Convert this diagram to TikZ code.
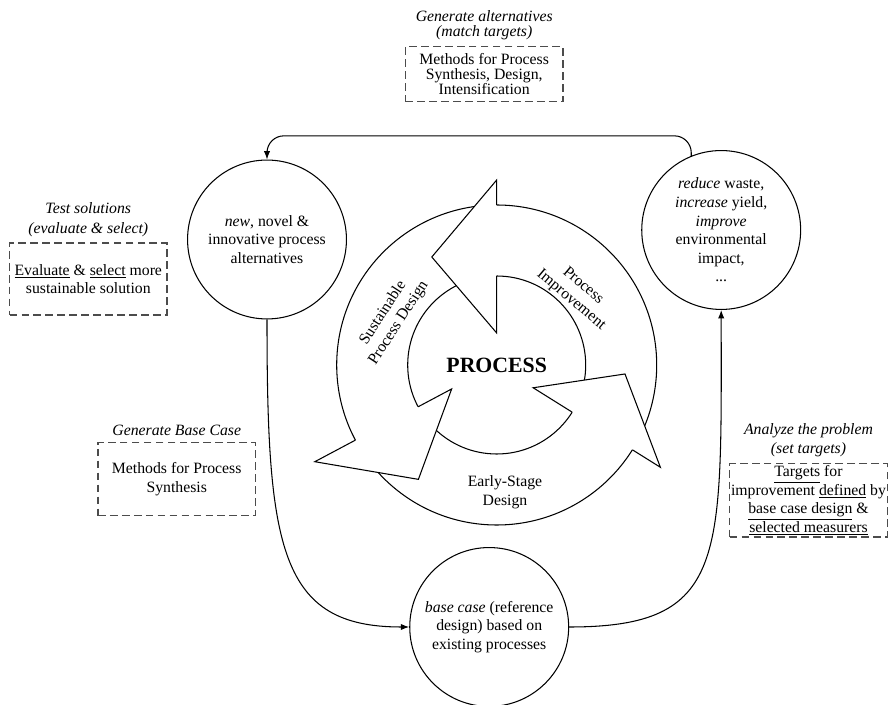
\documentclass[tikz,border=0pt]{standalone}
\usepackage{fontspec}
\setmainfont{Liberation Serif}
\usetikzlibrary{arrows.meta,positioning}

\begin{document}
\begin{tikzpicture}[
    x=0.025cm, y=0.025cm,
    node distance=3pt,
    font=\fontsize{11.2}{13.2}\selectfont,
    stage/.style={draw, circle, minimum size=113pt, inner sep=0pt, align=center, line width=0.75pt},
    method/.style={draw=black!70, dash pattern=on 5.5pt off 3pt, line width=1pt, minimum width=112pt, inner sep=1pt, align=center},
    tag/.style={font=\fontsize{11.2}{13.8}\selectfont\itshape, align=center, inner sep=1pt},
    arrow/.style={line width=0.75pt, ->, >={Latex[length=6pt,width=4.5pt]}},
    ring/.style={line width=0.75pt, line join=miter}
]
\useasboundingbox (0,0) rectangle (890,705);

% central cycle
\coordinate (hub) at (496.7,340);
\draw [ring] (hub) circle (160);
\draw [ring] (hub) circle (89);
\begin{scope}[shift={(hub)}]
\foreach \ang/\rin/\rout/\tang/\rtip in {90/32/185/121/126, 208/51/206/235.6/138.6, 328/43/193/356/128.6} {
    \fill [white] (\ang:\rout) -- (\tang:\rtip) -- (\ang:\rin) -- cycle;
    \draw [ring] (\ang:160) -- (\ang:\rout) -- (\tang:\rtip) -- (\ang:\rin) -- (\ang:89);
}
\end{scope}

\node (process) at (hub) {\fontsize{15.5}{18}\selectfont\bfseries PROCESS};
\node [rotate=57, align=center] (sustainable) at (391,387) {Sustainable\\Process Design};
\node [rotate=-40, align=center] (improvement) at (577,412) {Process\\Improvement};
\node [align=center] (early) at (505,212.5) {Early-Stage\\Design};

% stages
\node [stage] (new) at (267,465.5) {\textit{new}, novel \&\\innovative process\\alternatives};
\node [stage] (improve) at (721.2,475) {\textit{reduce} waste,\\\textit{increase} yield,\\\textit{improve}\\environmental\\impact,\\...};
\node [stage] (base) at (489.2,78) {\textit{base case} (reference\\design) based on\\existing processes};

% methods
\node [method, minimum height=39pt, font=\fontsize{11.2}{10.8}\selectfont] (alt) at (484.2,630.8) {Methods for Process\\Synthesis, Design,\\Intensification};
\node [method, minimum height=51pt] (evaluate) at (88.3,426) {\underline{Evaluate} \& \underline{select} more\\sustainable solution};
\node [method, minimum height=52pt] (synthesis) at (176.7,226) {Methods for Process\\Synthesis};
\node [method, minimum height=52pt] (targets) at (808.5,204.7) {\underline{Targets} for\\improvement \underline{defined} by\\\underline{base case design} \&\\\underline{selected measurers}};

\node [tag, font=\fontsize{11.2}{10.8}\selectfont\itshape, above=of alt] (altlabel) {Generate alternatives\\(match targets)};
\node [tag, above=of evaluate] (evaluatelabel) {Test solutions\\(evaluate \& select)};
\node [tag, above=of synthesis] (synthesislabel) {Generate Base Case};
\node [tag, above=of targets] (targetslabel) {Analyze the problem\\(set targets)};

% connectors
\draw [arrow, rounded corners=12pt] (improve.112) -- ++(0,20) -| (new.north);
\draw [arrow] (new.south) to [out=-90, in=180, out distance=163pt, in distance=92pt] (base.west);
\draw [arrow] (base.east) to [out=0, in=-90, out distance=113pt, in distance=177pt] (improve.south);

\end{tikzpicture}
\end{document}
